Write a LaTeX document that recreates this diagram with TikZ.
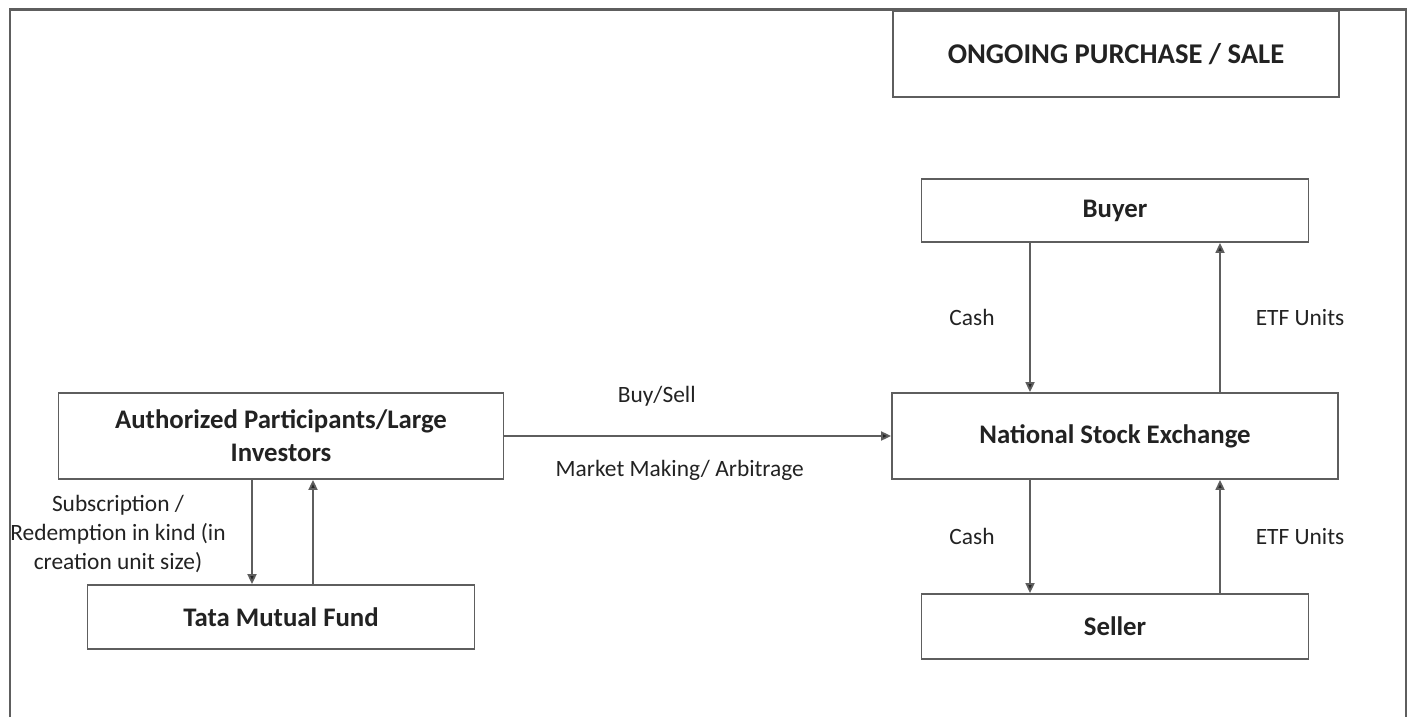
\documentclass[tikz,border=0pt]{standalone}
\usepackage{fontspec}
\setmainfont{Carlito}
\usetikzlibrary{arrows.meta}
\definecolor{linegray}{HTML}{5E5E5E}
\definecolor{textgray}{HTML}{222222}
\tikzset{
  box/.style={draw=linegray,line width=0.9pt,align=center,text=textgray,
    font=\fontsize{13.4}{16.5}\selectfont\bfseries},
  flow/.style={draw=linegray,line width=0.9pt,-{Triangle[length=5pt,width=4.5pt,fill=black!85]}},
  lbl/.style={text=textgray,align=center,font=\fontsize{11.7}{14.3}\selectfont}
}

\begin{document}
\begin{tikzpicture}[x=0.5pt,y=-0.5pt]
\useasboundingbox (0,0) rectangle (1412,717);
\draw[linegray,line width=1.2pt] (10,717) -- (10,9.5) -- (1406,9.5) -- (1406,717);
\node[box,minimum width=223pt,minimum height=43pt,font=\fontsize{14.3}{16.5}\selectfont\bfseries] (ongoing) at (1116,54) {ONGOING PURCHASE / SALE};
\node[box,minimum width=193.5pt,minimum height=31.5pt] (buyer) at (1115,210.5) {Buyer};
\node[box,minimum width=223pt,minimum height=43pt] (nse) at (1115,436) {National Stock Exchange};
\node[box,minimum width=193.5pt,minimum height=32.5pt] (seller) at (1115,626.5) {Seller};
\node[box,minimum width=222.5pt,minimum height=43pt] (ap) at (281,436) {Authorized Participants/Large\\Investors};
\node[box,minimum width=193.5pt,minimum height=32pt] (tata) at (281,617) {Tata Mutual Fund};
\draw[flow] ([xshift=-42.5pt]buyer.south) -- ([xshift=-42.5pt]nse.north) node[lbl,midway,xshift=-29pt] {Cash};
\draw[flow] ([xshift=52.5pt]nse.north) -- ([xshift=52.5pt]buyer.south) node[lbl,midway,xshift=40pt] {ETF Units};
\draw[flow] ([xshift=-42.5pt]nse.south) -- ([xshift=-42.5pt]seller.north) node[lbl,midway,xshift=-29pt] {Cash};
\draw[flow] ([xshift=52.5pt]seller.north) -- ([xshift=52.5pt]nse.south) node[lbl,midway,xshift=40pt] {ETF Units};
\draw[flow] (ap.east) -- (nse.west)
  node[lbl,midway,xshift=-20.5pt,yshift=20pt] {Buy/Sell}
  node[lbl,midway,xshift=-9pt,yshift=-17pt] {Market Making/ Arbitrage};
\draw[flow] ([xshift=-14.5pt]ap.south) -- ([xshift=-14.5pt]tata.north) node[lbl,midway,xshift=-67pt,yshift=-1pt] {Subscription /\\Redemption in kind (in\\creation unit size)};
\draw[flow] ([xshift=16pt]tata.north) -- ([xshift=16pt]ap.south);
\end{tikzpicture}
\end{document}
